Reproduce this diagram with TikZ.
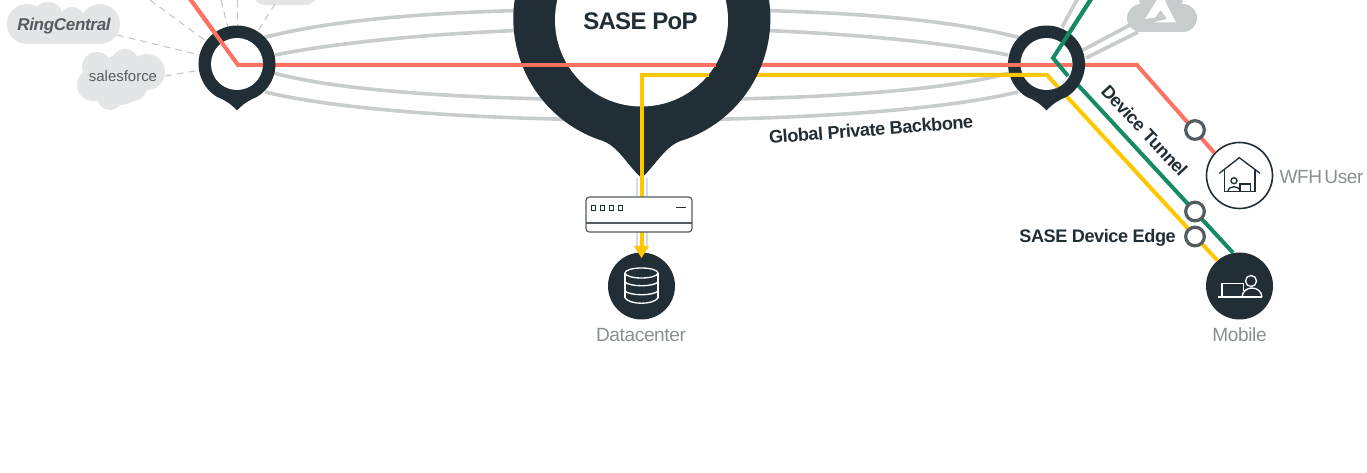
\documentclass[tikz,border=0pt]{standalone}
\usepackage{fontspec}
\setmainfont{Liberation Sans}
\usepackage{tikz}
\definecolor{pindark}{HTML}{222E35}
\definecolor{redline}{HTML}{FF7262}
\definecolor{yellowline}{HTML}{FFC700}
\definecolor{greenline}{HTML}{168A64}
\definecolor{greyline}{HTML}{C9CCCC}
\definecolor{cloudgrey}{HTML}{E4E5E7}
\definecolor{labelgrey}{HTML}{8A8F94}
\definecolor{ringgrey}{HTML}{555C61}
\tikzset{
  backbone/.style={color=greyline,line width=2.7pt},
  dashlink/.style={color=cloudgrey!85!black,line width=0.75pt,dash pattern=on 5pt off 4pt},
  redpath/.style={color=redline,line width=3pt,line join=miter},
  yellowpath/.style={color=yellowline,line width=3pt,line join=miter},
  greenpath/.style={color=greenline,line width=3pt,line join=miter},
  edgering/.style={circle,draw=ringgrey,line width=2.4pt,fill=white,inner sep=0pt,minimum size=14pt},
  darkdisc/.style={circle,fill=pindark,inner sep=0pt,minimum size=50.25pt},
  iconline/.style={color=white,line width=1pt},
  houseline/.style={color=pindark,line width=1pt},
  boldlabel/.style={font=\fontsize{13.6}{13.6}\selectfont\bfseries\addfontfeatures{LetterSpace=-2.5},text=pindark,inner sep=0.75pt},
  greylabel/.style={font=\fontsize{14.3}{14.3}\selectfont\addfontfeatures{LetterSpace=-2},text=labelgrey,inner sep=0.75pt},
}
\begin{document}
\begin{tikzpicture}[x=0.75pt,y=0.75pt,yscale=-1,xscale=1]
\useasboundingbox (0,0) rectangle (1367,473);
\clip (0,0) rectangle (1367,473);

% Named points
\coordinate (leftpin) at (237,64);
\coordinate (bigpin) at (641.5,20);
\coordinate (rightpin) at (1046.5,64);
\coordinate (redtop) at (188,-4);
\coordinate (redbend) at (238,65);
\coordinate (redknee) at (1137,65);
\coordinate (redbigout) at (716,65);
\coordinate (redrightin) at (1072,65);
\coordinate (redleftout) at (263,65);
\coordinate (redbigin) at (480,65);
\coordinate (redrightstart) at (1000,65);
\coordinate (yellowtop) at (641.5,75);
\coordinate (yellowbottom) at (641.5,248);
\coordinate (yellowbend) at (1047,75);
\coordinate (yellowring) at (1058,87);
\coordinate (yellowbigout) at (709,75);
\coordinate (yellowrightstart) at (1000,75);
\coordinate (greentop) at (1093,-4);
\coordinate (greenbend) at (1053,58);
\coordinate (greenring) at (1068,76);

%Shape: Clouds
\fill [cloudgrey] (27,24) circle [radius=20] (48,17) circle [radius=15] (72,20) circle [radius=13] (100,24) circle [radius=20];
\fill [cloudgrey] (27,20) rectangle (100,44);
\fill [cloudgrey] (97,67) circle [radius=15] (125,63) circle [radius=14] (147,72) circle [radius=18] (93,85) circle [radius=16] (110,97) circle [radius=13] (133,87) circle [radius=14] (120,80) circle [radius=25];
\fill [cloudgrey, rounded corners=10] (252,-20) rectangle (318,5);
\fill [cloudgrey] (100,-10) rectangle (150,0.5);
\fill [greyline] (1141,18) circle [radius=14] (1183,18) circle [radius=14] (1161,-3) circle [radius=22];
\fill [greyline] (1141,10) rectangle (1183,32);
\fill [white] (1157,0) -- (1145,19) -- (1155,17.5) -- (1166,3) -- (1165,0) -- cycle;
\fill [white] (1166,3) -- (1176,22.5) -- (1153,22.5) -- (1167,19) -- (1160,9) -- cycle;

%Straight Lines
\draw [dashlink] (117,35) -- (leftpin);
\draw [dashlink] (165,76) -- (leftpin);
\draw [dashlink] (150,0) -- (leftpin);
\draw [dashlink] (221,0) -- (leftpin);
\draw [dashlink] (237,0) -- (leftpin);
\draw [dashlink] (275,4) -- (leftpin);

%Curves
\draw [backbone] (262,38) .. controls (350,15) and (480,9) .. (641.5,9) .. controls (803,9) and (933,15) .. (1021,38);
\draw [backbone] (275,55) .. controls (350,40) and (480,28) .. (641.5,28) .. controls (803,28) and (933,40) .. (1008,55);
\draw [backbone] (270,72) .. controls (340,92) and (480,100) .. (641.5,100) .. controls (803,100) and (943,92) .. (1013,72);
\draw [backbone] (265,92) .. controls (340,110) and (480,120) .. (641.5,120) .. controls (803,120) and (943,110) .. (1018,92);
\draw [backbone] (1062,27) -- (1078,-2);
\draw [backbone] (1083,50) -- (1132,24);
\draw [backbone] (1086,58) -- (1138,32);

%Straight Lines
\draw [color=greyline!70, line width=1.2pt] (637,178) -- (637,250);
\draw [color=greyline!70, line width=1.2pt] (647,178) -- (647,250);

% Circle Nodes
\draw (1239.5,175.5) node [circle,draw=pindark,line width=1.2pt,fill=white,inner sep=0pt,minimum size=49.5pt] (wfhuser) {};
\draw (1239.5,286) node [darkdisc] (mobile) {};
\draw (641.5,286) node [darkdisc] (datacenter) {};

%Straight Lines
\draw [redpath] (redtop) -- (redbend) -- (redknee) -- (wfhuser.138);
\draw [yellowpath] (yellowtop) -- (yellowbend) -- (mobile.131);
\draw [greenpath] (greentop) -- (greenbend) -- (mobile.101);

%Shape: Pins
\fill [pindark] (641.5,178) .. controls (626,164) and (618,145) .. (600,140) arc [start angle=109,end angle=431,radius=128.5] .. controls (665,145) and (657,164) .. (641.5,178) -- cycle;
\fill [white] (bigpin) circle [radius=86.5];
\fill [pindark] (237,110.5) .. controls (231,104) and (225,100) .. (217.2,97) arc [start angle=121,end angle=419,radius=38.5] .. controls (249,100) and (243,104) .. (237,110.5) -- cycle;
\fill [white] (leftpin) circle [radius=26];
\fill [pindark] (1046.5,110.5) .. controls (1040.5,104) and (1034.5,100) .. (1026.7,97) arc [start angle=121,end angle=419,radius=38.5] .. controls (1058.5,100) and (1052.5,104) .. (1046.5,110.5) -- cycle;
\fill [white] (rightpin) circle [radius=26];

%Straight Lines
\draw [redpath] (redtop) -- (redbend) -- (redleftout);
\draw [redpath] (redbigin) -- (redbigout);
\draw [redpath] (redrightstart) -- (redrightin);
\draw [yellowpath] (yellowrightstart) -- (yellowbend) -- (yellowring);
\draw [greenpath] (greentop) -- (greenbend) -- (greenring);
\draw [yellowpath] (yellowbottom) -- (yellowtop) -- (yellowbigout) ;
\fill [yellowline] (634,246) -- (649,246) -- (641.5,258) -- cycle;

%Shape: Device Box
\draw [fill=white, draw=ringgrey, line width=0.9pt, rounded corners=2.5] (586,197) rectangle (692,232) ;
\draw [color=ringgrey, line width=0.9pt] (586,223) -- (692,223) ;
\foreach \boxx in {591,600,608.7,617.7}{
  \draw [color=pindark, line width=0.7pt] (\boxx+0.5,205.5) rectangle (\boxx+4.5,210.5) ;
}
\draw [color=pindark, line width=0.8pt] (676,207.7) -- (686,207.7) ;

%Shape: Database icon
\draw [iconline] (641.5,273) ellipse [x radius=16.5, y radius=5];
\draw [iconline] (625,273) -- (625,298) ;
\draw [iconline] (658,273) -- (658,298) ;
\draw [iconline] (625,282) .. controls (630,287) and (653,287) .. (658,282) ;
\draw [iconline] (625,291) .. controls (630,296) and (653,296) .. (658,291) ;
\draw [iconline] (625,298) .. controls (630,305) and (653,305) .. (658,298) ;

%Shape: House icon
\draw [houseline] (1219.3,173.3) -- (1239.3,157.7) -- (1260,173.3) ;
\draw [houseline] (1224.3,169.5) -- (1224.3,191.7) -- (1255,191.7) -- (1255,169.5) ;
\draw [houseline] (1234,180.7) circle [radius=3] ;
\draw [houseline] (1228,191.7) .. controls (1228,185) and (1240,185) .. (1240,191.7) ;
\draw [houseline] (1240,191.7) -- (1240,184) -- (1250.7,184) -- (1250.7,191.7) ;

%Shape: Mobile icon
\draw [iconline] (1222,297) -- (1222,283.7) -- (1243.3,283.7) -- (1243.3,291) ;
\draw [iconline] (1218.3,297) -- (1262,297) ;
\draw [iconline] (1251,281) circle [radius=5.5] ;
\draw [iconline] (1242,297) .. controls (1243,285) and (1261,285) .. (1262,297) ;

% Edge Nodes
\draw (1195,130) node [edgering] (wfhedge) {};
\draw (1195,211.5) node [edgering] (tunneledge) {};
\draw (1195,236.5) node [edgering] (sasedge) {};

% Text Node
\draw (640.5,21) node [inner sep=0.75pt, font=\fontsize{18}{18}\selectfont\bfseries\addfontfeatures{LetterSpace=-3}, text=pindark] (saselabel) {SASE PoP};
% Text Node
\draw (871,129.5) node [boldlabel, rotate=4.5] (backbonelabel) {Global Private Backbone};
% Text Node
\draw (1144.5,130.5) node [boldlabel, rotate=-47] (tunnellabel) {Device Tunnel};
% Text Node
\draw (1177,238) node [boldlabel, anchor=east] (edgelabel) {SASE Device Edge};
% Text Node
\draw (1321.5,177) node [greylabel] (wfhlabel) {WFH\hspace{-2pt} User};
% Text Node
\draw (1239.5,335) node [greylabel] (mobilelabel) {Mobile};
% Text Node
\draw (641,335.5) node [greylabel] (datacenterlabel) {Datacenter};
% Text Node
\draw (64,26) node [inner sep=0.75pt, font=\fontsize{12.8}{12.8}\selectfont\bfseries\itshape\addfontfeatures{LetterSpace=-2}, text=ringgrey] (ringlabel) {RingCentral};
% Text Node
\draw (123,76) node [inner sep=0.75pt, font=\fontsize{11.2}{11.2}\selectfont, text=ringgrey] (salesforcelabel) {salesforce};
\end{tikzpicture}
\end{document}
